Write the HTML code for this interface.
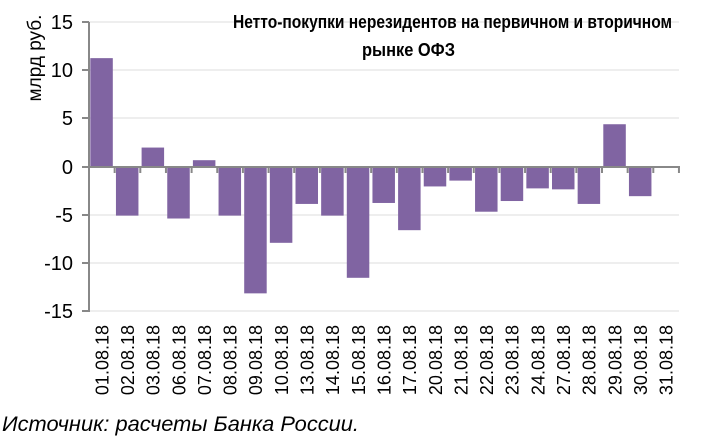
<!DOCTYPE html>
<html><head><meta charset="utf-8"><style>
html,body{margin:0;padding:0;background:#fff;}
svg{display:block;font-family:"Liberation Sans",sans-serif;}
</style></head><body>
<svg width="714" height="445" viewBox="0 0 714 445" xmlns="http://www.w3.org/2000/svg">
<g stroke="#eeeeee" stroke-width="2">
<line x1="89" x2="679" y1="22" y2="22"/><line x1="89" x2="679" y1="70" y2="70"/>
<line x1="89" x2="679" y1="118" y2="118"/><line x1="89" x2="679" y1="215" y2="215"/>
<line x1="89" x2="679" y1="263" y2="263"/><line x1="89" x2="679" y1="311" y2="311"/>
</g>
<g id="bars" fill="#8064a2"></g>
<g stroke="#888" stroke-width="2" fill="none">
<line x1="89" y1="22" x2="89" y2="312"/>
<line x1="82" y1="22" x2="89" y2="22"/><line x1="82" y1="70" x2="89" y2="70"/>
<line x1="82" y1="118" x2="89" y2="118"/><line x1="82" y1="167" x2="89" y2="167"/>
<line x1="82" y1="215" x2="89" y2="215"/><line x1="82" y1="263" x2="89" y2="263"/>
<line x1="82" y1="311" x2="89" y2="311"/>
<line x1="89" y1="167" x2="680" y2="167"/>
<g id="ticks"></g>
</g>
<g font-size="20" text-anchor="end" fill="#000">
<text x="73" y="29">15</text><text x="73" y="77">10</text><text x="73" y="125">5</text>
<text x="73" y="174">0</text><text x="73" y="222">-5</text><text x="73" y="270">-10</text>
<text x="73" y="318">-15</text>
</g>
<text transform="translate(41,58) rotate(-90)" font-size="19" text-anchor="middle">млрд руб.</text>
<text x="233" y="28" font-size="18" font-weight="bold" textLength="439" lengthAdjust="spacingAndGlyphs">Нетто-покупки нерезидентов на первичном и вторичном</text>
<text x="362" y="56" font-size="18" font-weight="bold" textLength="93" lengthAdjust="spacingAndGlyphs">рынке ОФЗ</text>
<g id="labels" font-size="18" text-anchor="end"></g>
<text x="2" y="431" font-size="21" font-style="italic" textLength="357" lengthAdjust="spacingAndGlyphs">Источник: расчеты Банка России.</text>
</svg>
<script>
var v=[11.2,-5,2,-5.3,0.7,-5,-13,-7.8,-3.8,-5,-11.4,-3.7,-6.5,-2,-1.4,-4.6,-3.5,-2.2,-2.3,-3.8,4.4,-3,0];
var d=["01","02","03","06","07","08","09","10","13","14","15","16","17","20","21","22","23","24","27","28","29","30","31"];
var ns="http://www.w3.org/2000/svg",x0=89,w=25.65,z=167,k=9.72;
var b=document.getElementById("bars"),t=document.getElementById("ticks"),l=document.getElementById("labels");
for(var i=0;i<23;i++){
 var x=x0+i*w;
 if(v[i]!==0){var r=document.createElementNS(ns,"rect");var h=Math.abs(v[i])*k;
 r.setAttribute("x",x+1.3);r.setAttribute("width",22.5);r.setAttribute("y",v[i]>0?z-h:z);r.setAttribute("height",h);b.appendChild(r);}
 var ln=document.createElementNS(ns,"line");ln.setAttribute("x1",x+w);ln.setAttribute("x2",x+w);ln.setAttribute("y1",z);ln.setAttribute("y2",z+6);t.appendChild(ln);
 var tx=document.createElementNS(ns,"text");var cx=x+w/2+6.5;
 tx.setAttribute("transform","translate("+cx+",325) rotate(-90)");tx.textContent=d[i]+".08.18";l.appendChild(tx);
}
</script>
</body></html>
